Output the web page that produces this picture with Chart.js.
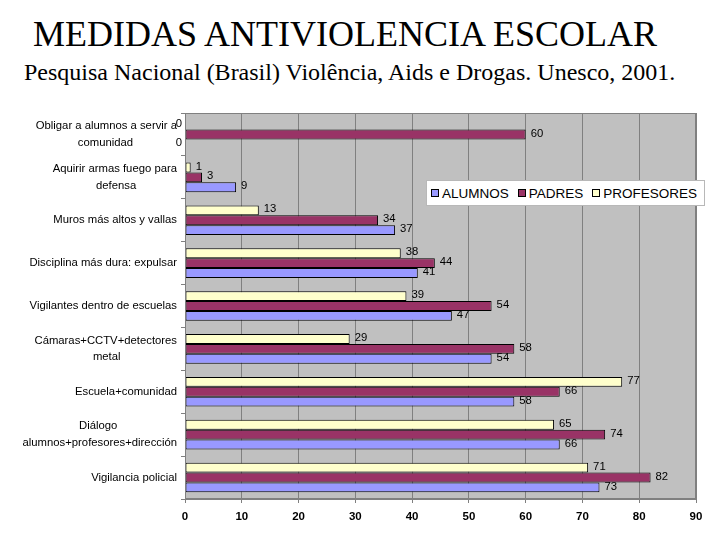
<!DOCTYPE html>
<html>
<head>
<meta charset="utf-8">
<script src="https://cdn.jsdelivr.net/npm/chart.js"></script>
<style>
  html, body { margin: 0; padding: 0; background: #ffffff; }
  body { width: 720px; height: 540px; position: relative; overflow: hidden; }
  #title { position: absolute; left: 33px; top: 16px; font: 36px/1 "Liberation Serif", "Times New Roman", serif; color: #000; white-space: nowrap; }
  #subtitle { position: absolute; left: 24px; top: 60px; font: 24px/1 "Liberation Serif", "Times New Roman", serif; color: #000; white-space: nowrap; }
  #wrap { position: absolute; left: 0; top: 100px; width: 720px; height: 440px; }
  #legend { position: absolute; left: 426px; top: 180px; width: 279px; height: 26px; background: #fff; border: 1px solid #b8b8b8; box-sizing: border-box; display: flex; align-items: center; padding-left: 4px; font: 13.5px "Liberation Sans", Arial, sans-serif; color: #000; white-space: nowrap; }
  .item { display: flex; align-items: center; margin-right: 9px; }
  .sw { width: 8px; height: 8px; border: 1px solid #000; box-sizing: border-box; margin-right: 3px; }
</style>
</head>
<body>
<div id="title">MEDIDAS ANTIVIOLENCIA ESCOLAR</div>
<div id="subtitle">Pesquisa Nacional (Brasil) Violência, Aids e Drogas. Unesco, 2001.</div>
<div id="wrap"><canvas id="c" width="720" height="440"></canvas></div>
<div id="legend"></div>
<script>
// ---- data ----
const categories = [
  ["Obligar a alumnos a servir a", "comunidad"],
  ["Aquirir armas fuego para", "defensa"],
  ["Muros más altos y vallas"],
  ["Disciplina más dura: expulsar"],
  ["Vigilantes dentro de escuelas"],
  ["Cámaras+CCTV+detectores", "metal"],
  ["Escuela+comunidad"],
  ["Diálogo", "alumnos+profesores+dirección"],
  ["Vigilancia policial"]
];
const alumnos    = [0, 9, 37, 41, 47, 54, 58, 66, 73];
const padres     = [60, 3, 34, 44, 54, 58, 66, 74, 82];
const profesores = [0, 1, 13, 38, 39, 29, 77, 65, 71];
const xTicks = [0, 10, 20, 30, 40, 50, 60, 70, 80, 90];

// ---- build labels (center short lines under long ones) ----
const FONT = '"Liberation Sans", Arial, sans-serif';
const LSIZE = 11.3;
const mctx = document.createElement('canvas').getContext('2d');
mctx.font = LSIZE + 'px ' + FONT;
const spaceW = mctx.measureText(' ').width;
const labels = categories.map(lines => {
  if (lines.length === 1) return lines[0];
  const ws = lines.map(l => mctx.measureText(l).width);
  const maxW = Math.max(...ws);
  return lines.map((l, i) => l + ' '.repeat(Math.round((maxW - ws[i]) / 2 / spaceW)));
});

// datasets (top to bottom inside a group: PROFESORES, PADRES, ALUMNOS)
const series = [
  { label: 'PROFESORES', data: profesores, color: '#ffffcc' },
  { label: 'PADRES', data: padres, color: '#993366' },
  { label: 'ALUMNOS', data: alumnos, color: '#9999ff' }
];

// HTML legend (ALUMNOS, PADRES, PROFESORES)
const legend = document.getElementById('legend');
series.slice().reverse().forEach(s => {
  const it = document.createElement('div'); it.className = 'item';
  const sw = document.createElement('div'); sw.className = 'sw'; sw.style.background = s.color;
  const tx = document.createElement('span'); tx.textContent = s.label;
  it.appendChild(sw); it.appendChild(tx); legend.appendChild(it);
});

const plotBg = {
  id: 'plotBg',
  beforeDraw(chart) {
    const { ctx, chartArea: a } = chart;
    ctx.save(); ctx.fillStyle = '#c0c0c0';
    ctx.fillRect(a.left, a.top, a.right - a.left, a.bottom - a.top);
    ctx.restore();
  },
  afterDraw(chart) {
    const { ctx, chartArea: a } = chart;
    ctx.save(); ctx.strokeStyle = '#808080'; ctx.lineWidth = 1;
    ctx.strokeRect(Math.round(a.left) + 0.5, Math.round(a.top) + 0.5, Math.round(a.right - a.left) - 1, Math.round(a.bottom - a.top) - 1);
    ctx.restore();
  }
};

const valueLabels = {
  id: 'valueLabels',
  afterDatasetsDraw(chart) {
    const ctx = chart.ctx;
    ctx.save();
    ctx.font = LSIZE + 'px ' + FONT;
    ctx.fillStyle = '#000';
    ctx.textBaseline = 'middle';
    chart.data.datasets.forEach((ds, di) => {
      const meta = chart.getDatasetMeta(di);
      meta.data.forEach((el, i) => {
        const v = ds.data[i];
        if (v === 0) { ctx.textAlign = 'right'; ctx.fillText(String(v), el.base - 3, el.y - 1); }
        else { ctx.textAlign = 'left'; ctx.fillText(String(v), el.x + 5, el.y - 1); }
      });
    });
    ctx.restore();
  }
};

new Chart(document.getElementById('c'), {
  type: 'bar',
  data: {
    labels: labels,
    datasets: series.map(s => ({
      label: s.label, data: s.data, backgroundColor: s.color,
      borderColor: '#000000', borderWidth: 1, borderSkipped: false,
      categoryPercentage: 0.69, barPercentage: 1.0
    }))
  },
  options: {
    indexAxis: 'y',
    responsive: false,
    animation: false,
    events: [],
    layout: { padding: { top: 13, right: 24, left: 0, bottom: 0 } },
    plugins: { legend: { display: false }, tooltip: { enabled: false }, title: { display: false } },
    scales: {
      x: {
        min: 0, max: 90,
        afterBuildTicks(scale) { scale.ticks = xTicks.map(v => ({ value: v })); },
        afterFit(scale) { scale.height = 41; },
        grid: { color: '#808080', lineWidth: 1, tickLength: 4, tickColor: '#808080', drawOnChartArea: true },
        border: { color: '#808080' },
        ticks: { color: '#000', font: { family: FONT, size: 11.5, weight: 'bold' }, padding: 7, maxRotation: 0 }
      },
      y: {
        afterFit(scale) { scale.width = 185; },
        grid: { drawOnChartArea: false, tickLength: 4, tickColor: '#808080', offset: true },
        border: { color: '#808080' },
        ticks: { color: '#000', font: { family: FONT, size: LSIZE, lineHeight: 1.5 }, padding: 4, autoSkip: false }
      }
    }
  },
  plugins: [plotBg, valueLabels]
});
</script>
</body>
</html>
